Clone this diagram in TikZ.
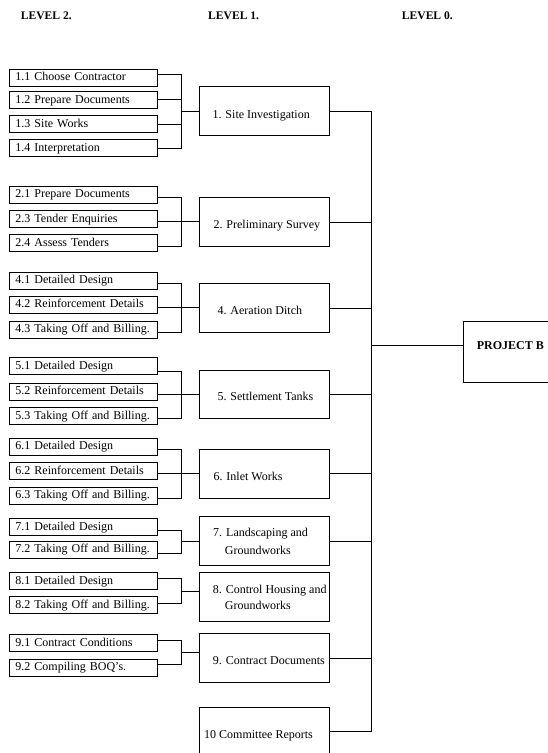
\documentclass[tikz,border=0pt]{standalone}
\usepackage{fontspec}
\setmainfont{Liberation Serif}
\begin{document}
\begin{tikzpicture}[x=1pt,y=-1pt,
  l2/.style={draw, line width=1pt, anchor=west, minimum width=148pt, minimum height=17pt,
    text width=136pt, align=left, inner xsep=6pt, inner ysep=0pt,
    text height=8.5pt, text depth=2.5pt, font=\fontsize{12}{14}\selectfont},
  l1/.style={draw, line width=1pt, minimum width=130pt, minimum height=48.5pt, inner sep=0pt},
  lt/.style={anchor=base west, inner sep=0pt, font=\fontsize{12}{14}\selectfont},
  conn/.style={line width=0.9pt},
  ttl/.style={anchor=base west, inner sep=0pt, font=\bfseries\fontsize{11.6}{14}\selectfont}]
\useasboundingbox (0,0) rectangle (548,753);
\clip (0,0) rectangle (548,753);

% titles
\node[ttl] (h2) at (20.7,19) {LEVEL 2.};
\node[ttl] (h1) at (208,19) {LEVEL 1.};
\node[ttl] (h0) at (401.7,19) {LEVEL 0.};

% level 2 boxes
\node[l2] (a11) at (9,77.7) {1.1 Choose Contractor};
\node[l2] (a12) at (9,100.3) {1.2 Prepare Documents};
\node[l2] (a13) at (9,124.3) {1.3 Site Works};
\node[l2] (a14) at (9,148.3) {1.4 Interpretation};
\node[l2] (a21) at (9,194.5) {2.1 Prepare Documents};
\node[l2] (a23) at (9,219) {2.3 Tender Enquiries};
\node[l2] (a24) at (9,243.3) {2.4 Assess Tenders};
\node[l2] (a41) at (9,280.5) {4.1 Detailed Design};
\node[l2] (a42) at (9,304.7) {4.2 Reinforcement Details};
\node[l2] (a43) at (9,329.5) {4.3 Taking Off and Billing.};
\node[l2] (a51) at (9,366.3) {5.1 Detailed Design};
\node[l2] (a52) at (9,391.7) {5.2 Reinforcement Details};
\node[l2] (a53) at (9,416) {5.3 Taking Off and Billing.};
\node[l2] (a61) at (9,446.7) {6.1 Detailed Design};
\node[l2] (a62) at (9,471.2) {6.2 Reinforcement Details};
\node[l2] (a63) at (9,495.8) {6.3 Taking Off and Billing.};
\node[l2] (a71) at (9,527.2) {7.1 Detailed Design};
\node[l2] (a72) at (9,549.7) {7.2 Taking Off and Billing.};
\node[l2] (a81) at (9,581.3) {8.1 Detailed Design};
\node[l2] (a82) at (9,605.3) {8.2 Taking Off and Billing.};
\node[l2] (a91) at (9,643) {9.1 Contract Conditions};
\node[l2] (a92) at (9,667.5) {9.2 Compiling BOQ's.};

% level 1 boxes
\node[l1] (L1) at (264,110.8) {};
\node[l1] (L2) at (264,222) {};
\node[l1] (L4) at (264,308) {};
\node[l1] (L5) at (264,394.7) {};
\node[l1] (L6) at (264,473.8) {};
\node[l1] (L7) at (264,541.2) {};
\node[l1] (L8) at (264,596.8) {};
\node[l1] (L9) at (264,658) {};
\node[l1] (L10) at (264,731.7) {};

\node[lt] (t1) at (212.3,118) {1. Site Investigation};
\node[lt] (t2) at (213.3,228.2) {2. Preliminary Survey};
\node[lt] (t4) at (217.3,314.2) {4. Aeration Ditch};
\node[lt] (t5) at (217.3,400.6) {5. Settlement Tanks};
\node[lt] (t6) at (213.3,480.3) {6. Inlet Works};
\node[lt] (t7a) at (213,536.3) {7. Landscaping and};
\node[lt] (t7b) at (224.7,554) {Groundworks};
\node[lt] (t8a) at (212.7,593) {8. Control Housing and};
\node[lt] (t8b) at (224.7,609.7) {Groundworks};
\node[lt] (t9) at (212.7,664.8) {9. Contract Documents};
\node[lt] (t10) at (204,738) {10 Committee Reports};

% level 0
\node[draw, line width=1pt, minimum width=100pt, minimum height=61pt, anchor=north west, inner sep=0pt] (pb) at (463.3,320.7) {};
\node[anchor=base west, inner sep=0pt, font=\bfseries\fontsize{12}{14}\selectfont] (pbt) at (476.7,349.7) {PROJECT B};

% junctions
\coordinate (j1) at (181.7,111.7);
\coordinate (j2) at (181.7,221.7);
\coordinate (j4) at (181.7,307.7);
\coordinate (j5) at (181.7,394);
\coordinate (j6) at (181.7,473.8);
\coordinate (j7) at (181.7,541.7);
\coordinate (j8) at (181.7,591.2);
\coordinate (j9) at (181.7,652.3);
\coordinate (bus) at (371.7,731.7);
\coordinate (bpb) at (371.7,345);

\draw[conn] ([yshift=3.7pt]a11.east) -| (j1);
\draw[conn] ([yshift=1pt]a12.east) -| (j1);
\draw[conn] ([yshift=0.3pt]a13.east) -| (j1);
\draw[conn] (a14.east) -| (j1);
\draw[conn] (j1) -- (j1 -| L1.west);

\draw[conn] ([yshift=-2.8pt]a21.east) -| (j2);
\draw[conn] ([yshift=-2.7pt]a23.east) -| (j2);
\draw[conn] ([yshift=-3.4pt]a24.east) -| (j2);
\draw[conn] (j2) -- (j2 -| L2.west);

\draw[conn] ([yshift=-2.8pt]a41.east) -| (j4);
\draw[conn] ([yshift=-3pt]a42.east) -| (j4);
\draw[conn] ([yshift=-3.2pt]a43.east) -| (j4);
\draw[conn] (j4) -- (j4 -| L4.west);

\draw[conn] ([yshift=-4.7pt]a51.east) -| (j5);
\draw[conn] ([yshift=-2.3pt]a52.east) -| (j5);
\draw[conn] ([yshift=-2.3pt]a53.east) -| (j5);
\draw[conn] (j5) -- (j5 -| L5.west);

\draw[conn] ([yshift=-2.6pt]a61.east) -| (j6);
\draw[conn] ([yshift=-2.6pt]a62.east) -| (j6);
\draw[conn] ([yshift=-2.5pt]a63.east) -| (j6);
\draw[conn] (j6) -- (j6 -| L6.west);

\draw[conn] ([yshift=-2.8pt]a71.east) -| (j7);
\draw[conn] ([yshift=-3.6pt]a72.east) -| (j7);
\draw[conn] (j7) -- (j7 -| L7.west);

\draw[conn] ([yshift=3pt]a81.east) -| (j8);
\draw[conn] ([yshift=2pt]a82.east) -| (j8);
\draw[conn] (j8) -- (j8 -| L8.west);

\draw[conn] ([yshift=3pt]a91.east) -| (j9);
\draw[conn] ([yshift=3.5pt]a92.east) -| (j9);
\draw[conn] (j9) -- (j9 -| L9.west);

% level 1 to bus
\draw[conn] ([yshift=-0.9pt]L1.east) -| (bus);
\draw[conn] (L2.east) -| (bus);
\draw[conn] (L4.east) -| (bus);
\draw[conn] (L5.east) -| (bus);
\draw[conn] (L6.east) -| (bus);
\draw[conn] (L7.east) -| (bus);
\draw[conn] (L9.east) -| (bus);
\draw[conn] (L10.east) -| (bus);
\draw[conn] (bpb) -- (bpb -| pb.west);
\end{tikzpicture}
\end{document}
